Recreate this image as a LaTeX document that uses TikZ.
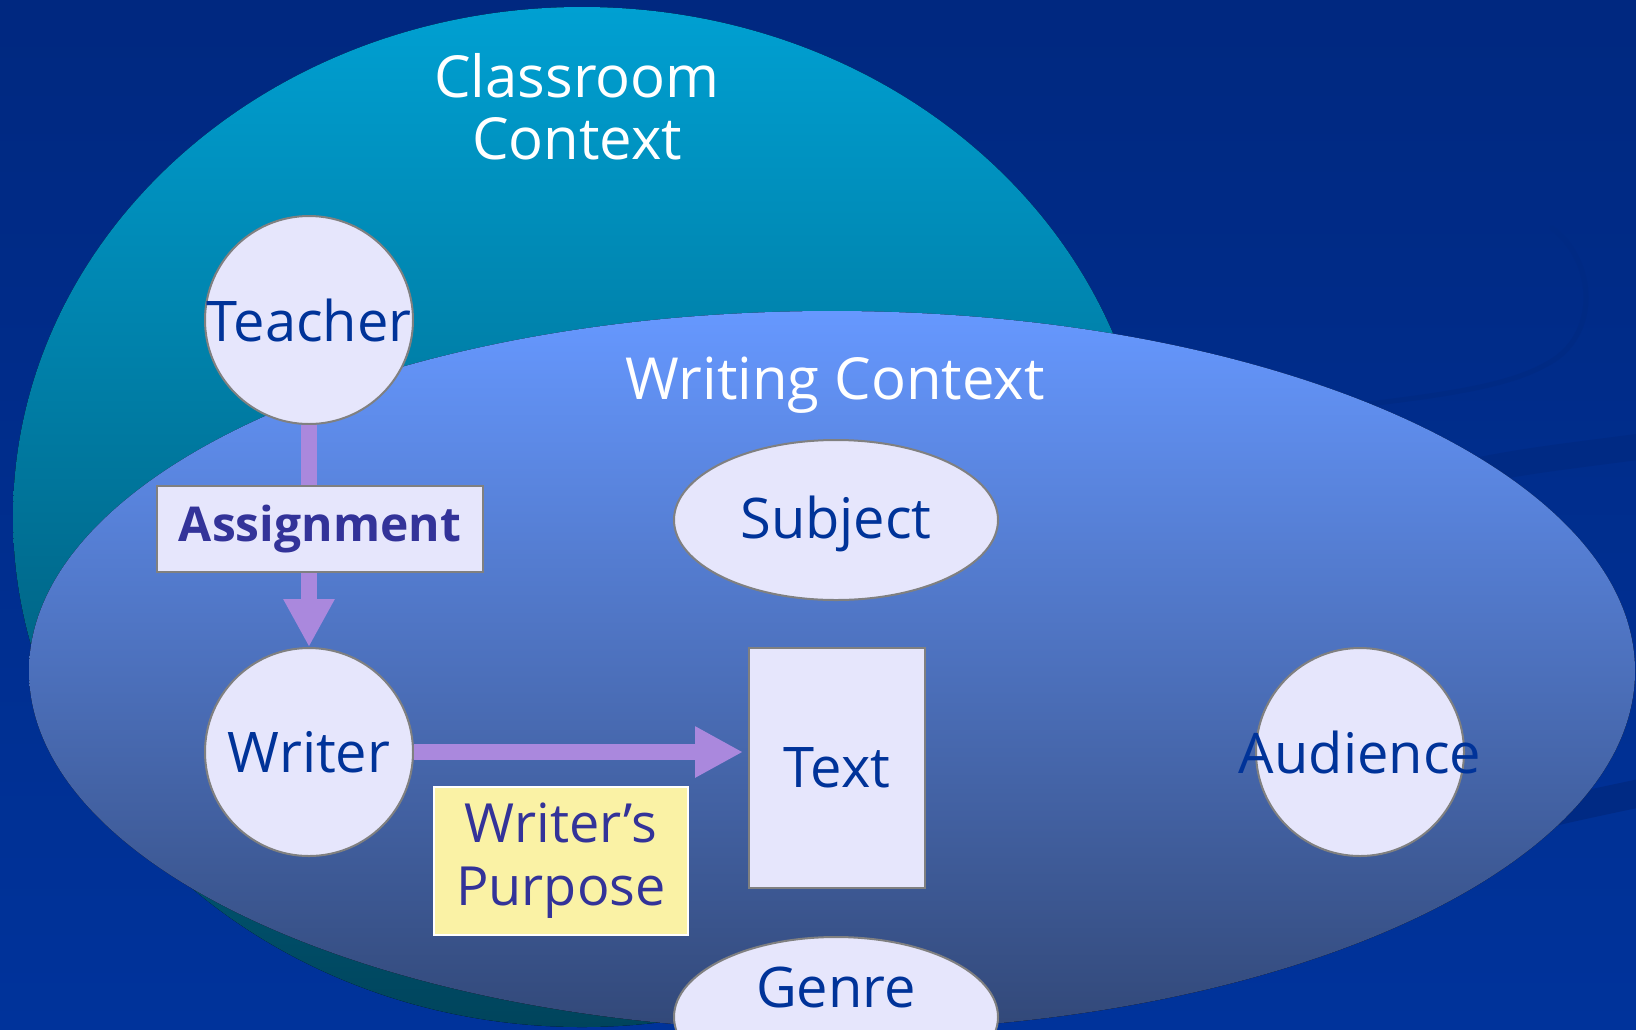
\documentclass[tikz,border=0pt]{standalone}
\usepackage{fontspec}
\setmainfont{Open Sans}
\usetikzlibrary{shapes.geometric, arrows.meta, positioning}
\definecolor{bgtop}{RGB}{0,40,128}
\definecolor{bgbottom}{RGB}{0,51,155}
\definecolor{swooshcolor}{RGB}{0,42,132}
\definecolor{classtop}{RGB}{0,160,210}
\definecolor{classmid}{RGB}{0,115,150}
\definecolor{classbottom}{RGB}{0,68,92}
\definecolor{writetop}{RGB}{102,152,255}
\definecolor{writemid}{RGB}{80,120,205}
\definecolor{writebottom}{RGB}{50,72,120}
\definecolor{nodefill}{RGB}{230,230,252}
\definecolor{nodetext}{RGB}{0,51,153}
\definecolor{purposetext}{RGB}{51,51,153}
\definecolor{purposefill}{RGB}{250,242,165}
\definecolor{flowcolor}{RGB}{170,136,221}
\tikzset{circ/.style={circle, draw=gray, line width=1pt, fill=nodefill, minimum size=104pt, inner sep=0pt}}
\tikzset{oval/.style={ellipse, draw=gray, line width=1pt, fill=nodefill, minimum width=162pt, minimum height=80pt, inner sep=0pt}}
\tikzset{sheet/.style={rectangle, draw=gray, line width=1pt, fill=nodefill, minimum width=88pt, minimum height=120pt, inner sep=0pt, text=nodetext, font=\fontsize{28}{30}\selectfont}}
\tikzset{inlabel/.style={text=nodetext, font=\fontsize{28}{30}\selectfont}}
\tikzset{tagbox/.style={rectangle, draw=gray, line width=1pt, fill=nodefill, minimum width=163pt, minimum height=43pt, inner sep=0pt, text=purposetext, font=\fontsize{24}{26}\selectfont\bfseries}}
\tikzset{notebox/.style={rectangle, draw=white, line width=0.8pt, fill=purposefill, minimum width=127pt, minimum height=74pt, inner sep=0pt, align=center, text=purposetext, font=\fontsize{27}{31.5}\selectfont}}
\tikzset{heading/.style={text=white, align=center, font=\fontsize{29}{31}\selectfont}}
\tikzset{flow/.style={draw=flowcolor, line width=8pt, -{Triangle[length=24pt, width=24pt]}}}
\tikzset{swoosh/.style={draw=swooshcolor, line cap=round}}

\begin{document}
\begin{tikzpicture}[x=0.5pt, y=-0.5pt]

	\useasboundingbox (0,0) rectangle (1636,1029);
	\clip (0,0) rectangle (1636,1029);

	%%% BACKGROUND %%%
	\fill[top color=bgtop, bottom color=bgbottom] (0,0) rectangle (1636,1029);
	\draw[swoosh, line width=2.5pt] (1552,228) .. controls (1597,262) and (1600,338) .. (1545,365) .. controls (1500,390) and (1420,398) .. (1300,412);
	\draw[swoosh, line width=13pt] (1440,478) .. controls (1520,462) .. (1645,446);
	\draw[swoosh, line width=14pt] (1480,830) .. controls (1560,810) .. (1645,792);

	% CONTEXTS
	\fill[top color=classtop, middle color=classmid, bottom color=classbottom] (582,517) ellipse [x radius=569, y radius=510];
	\fill[top color=writetop, middle color=writemid, bottom color=writebottom] (832,671) ellipse [x radius=803, y radius=360];

	\node[heading] (classroom) at (577,107) {Classroom\\Context};
	\node[heading] (writing) at (835,385) {Writing Context};

	%%% NODES %%%
	\node[circ, label={[inlabel]center:Teacher}] (teacher) at (309,320) {};
	\node[circ, label={[inlabel]center:Writer}] (writer) at (309,752) {};
	\node[circ, label={[inlabel]center:Audience}] (audience) at (1360,752) {};
	\node[oval, label={[inlabel, yshift=-2pt]center:Subject}] (subject) at (836,520) {};
	\node[oval, label={[inlabel, yshift=15pt]center:Genre}] (genre) at (836,1017) {};
	\node[sheet] (text) at (837,768) {Text};
	\node[notebox] (purpose) at (561,861) {Writer’s\\Purpose};

	%%% ARROWS %%%
	\draw[flow] (teacher) -- (writer);
	\draw[flow, shorten >=2.5pt] (writer) -- (writer -| text.west);

	\node[tagbox] (assignment) at (320,529) {Assignment};

\end{tikzpicture}
\end{document}
